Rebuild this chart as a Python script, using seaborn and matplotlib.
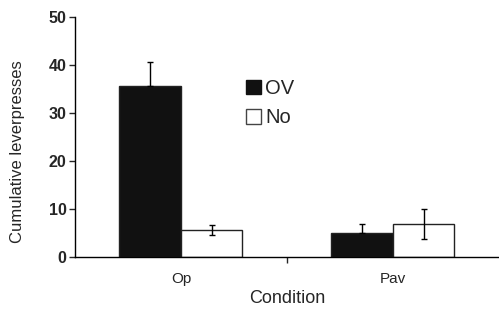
import numpy as np
import pandas as pd
import matplotlib
matplotlib.use("Agg")
import matplotlib.pyplot as plt
import seaborn as sns
from matplotlib.patches import Patch

# values
conditions = ["Op", "Pav"]
groups = ["OV", "No"]
ov_means = [35.6, 5.0]
ov_errs = [5.0, 1.9]
no_means = [5.6, 6.9]
no_errs = [1.1, 3.1]
y_ticks = [0, 10, 20, 30, 40, 50]

df = pd.DataFrame({
    "Condition": conditions * 2,
    "Group": ["OV"] * 2 + ["No"] * 2,
    "value": ov_means + no_means,
    "err": ov_errs + no_errs,
})

sns.set_style("white")
plt.rcParams["font.family"] = ["Liberation Sans", "DejaVu Sans"]

fig = plt.figure(figsize=(4.99, 3.10), dpi=100)
ax = fig.add_axes([0.150, 0.171, 0.850, 0.774])

sns.barplot(data=df, x="Condition", y="value", hue="Group",
            hue_order=groups, order=conditions,
            palette={"OV": "#111111", "No": "white"},
            width=0.58, gap=0, errorbar=None, legend=False,
            edgecolor="#222222", linewidth=1.0, ax=ax)

# error bars at the centres of the bars seaborn drew
# (lower half is hidden inside the black bars)
for patch, (_, row) in zip(ax.patches, df.iterrows()):
    xc = patch.get_x() + patch.get_width() / 2
    lower = 0 if row["Group"] == "OV" else row["err"]
    ax.errorbar(xc, patch.get_height(), yerr=[[lower], [row["err"]]], fmt="none",
                ecolor="black", elinewidth=1.0, capsize=2.3, capthick=1.0)

ax.set_xlim(-0.5, 1.5)
ax.set_ylim(0, 50)
ax.set_yticks(y_ticks)
ax.set_yticklabels([str(t) for t in y_ticks], fontweight="bold", fontsize=11.5)
ax.tick_params(axis="y", direction="out", length=4, width=1, left=True, pad=2)

ax.set_xticks([0, 1])
ax.set_xticklabels(conditions, fontsize=11)
ax.tick_params(axis="x", length=0, pad=11)
ax.set_xticks([0.5], minor=True)
ax.tick_params(axis="x", which="minor", direction="out", length=4, width=1, bottom=True)

for s in ["top", "right"]:
    ax.spines[s].set_visible(False)
for s in ["left", "bottom"]:
    ax.spines[s].set_color("black")
    ax.spines[s].set_linewidth(1.0)

ax.set_xlabel("Condition", fontsize=13, labelpad=3)
ax.set_ylabel("Cumulative leverpresses", fontsize=12)
ax.yaxis.set_label_coords(-0.118, 0.44)

handles = [Patch(facecolor="#111111", edgecolor="#111111", label="OV"),
           Patch(facecolor="white", edgecolor="#444444", label="No")]
ax.legend(handles=handles, loc="upper left", bbox_to_anchor=(0.385, 0.775),
          frameon=False, fontsize=14.5, handlelength=0.75, handleheight=0.75,
          handletextpad=0.2, labelspacing=0.5, borderaxespad=0)

fig.savefig("out.png", dpi=100)
